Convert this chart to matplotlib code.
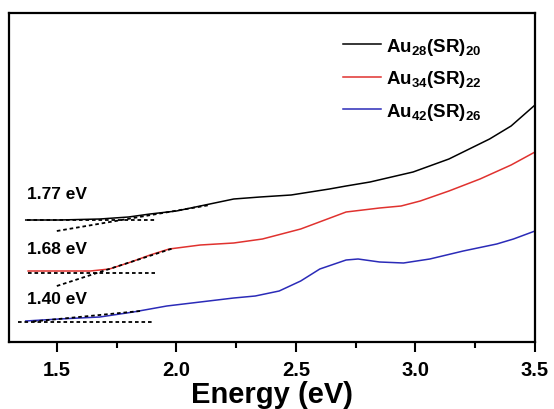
import numpy as np
import matplotlib
matplotlib.use('Agg')
import matplotlib.pyplot as plt
from matplotlib.ticker import MultipleLocator

plt.rcParams['font.family'] = ['Liberation Sans', 'DejaVu Sans']
plt.rcParams['font.weight'] = 'bold'
plt.rcParams['mathtext.fontset'] = 'custom'
plt.rcParams['mathtext.bf'] = 'Liberation Sans:bold'
plt.rcParams['mathtext.rm'] = 'Liberation Sans:bold'

# spectra (energy in eV, absorbance in arb. units)
e_28 = [1.37, 1.51, 1.68, 1.80, 1.89, 2.00, 2.10, 2.24, 2.35, 2.48, 2.64, 2.71, 2.81, 2.99, 3.14, 3.31, 3.40, 3.50]
a_28 = [1.22, 1.22, 1.23, 1.25, 1.28, 1.31, 1.36, 1.43, 1.45, 1.47, 1.53, 1.56, 1.60, 1.70, 1.83, 2.03, 2.16, 2.37]

e_34 = [1.38, 1.64, 1.72, 1.81, 1.89, 1.97, 2.10, 2.24, 2.36, 2.52, 2.71, 2.85, 2.94, 3.02, 3.14, 3.27, 3.40, 3.50]
a_34 = [0.71, 0.71, 0.73, 0.80, 0.87, 0.93, 0.97, 0.99, 1.03, 1.13, 1.30, 1.34, 1.36, 1.41, 1.51, 1.63, 1.77, 1.90]

e_42 = [1.37, 1.51, 1.68, 1.82, 1.96, 2.10, 2.24, 2.33, 2.43, 2.52, 2.60, 2.71, 2.76, 2.85, 2.95, 3.06, 3.20, 3.34, 3.41, 3.50]
a_42 = [0.21, 0.23, 0.25, 0.30, 0.36, 0.40, 0.44, 0.46, 0.51, 0.61, 0.73, 0.82, 0.83, 0.80, 0.79, 0.83, 0.91, 0.98, 1.03, 1.11]

labels = [r'Au$_{\mathbf{28}}$(SR)$_{\mathbf{20}}$',
          r'Au$_{\mathbf{34}}$(SR)$_{\mathbf{22}}$',
          r'Au$_{\mathbf{42}}$(SR)$_{\mathbf{26}}$']
colors = ['black', '#e0322f', '#2b2bb8']

# tangent construction lines (pairs of end points) and gap values
base_x = [[1.374, 1.92], [1.379, 1.91], [1.337, 1.90]]
base_y = [[1.22, 1.22], [0.69, 0.69], [0.205, 0.205]]
tan_x = [[1.50, 2.14], [1.50, 1.99], [1.40, 1.85]]
tan_y = [[1.11, 1.37], [0.56, 0.94], [0.205, 0.31]]
gaps = ['1.77 eV', '1.68 eV', '1.40 eV']
gap_y = [1.48, 0.93, 0.43]

fig = plt.figure(figsize=(5.54, 4.10), dpi=100)
ax = fig.add_axes([9/554, 67/410, 526/554, 329/410])

for ex, ab, lab, c in zip([e_28, e_34, e_42], [a_28, a_34, a_42], labels, colors):
    ax.plot(ex, ab, color=c, lw=1.1, label=lab)

for bx, by, tx, ty in zip(base_x, base_y, tan_x, tan_y):
    ax.plot(bx, by, color='black', lw=1.3, ls=(0, (2.0, 1.6)))
    ax.plot(tx, ty, color='black', lw=1.3, ls=(0, (2.0, 1.6)))

for g, gy in zip(gaps, gap_y):
    ax.text(1.374, gy, g, fontsize=12.5, fontweight='bold', va='center', ha='left')

ax.set_xlim(1.30, 3.50)
ax.set_ylim(0, 3.29)
ax.xaxis.set_major_locator(MultipleLocator(0.5))
ax.xaxis.set_minor_locator(MultipleLocator(0.25))
ax.set_yticks([])
ax.tick_params(axis='x', which='major', direction='out', length=7, width=1.5, labelsize=14.5, pad=6)
ax.tick_params(axis='x', which='minor', direction='out', length=4, width=1.5)
for lbl in ax.get_xticklabels():
    lbl.set_fontweight('bold')
for s in ax.spines.values():
    s.set_linewidth(1.6)
ax.set_xlabel('Energy (eV)', fontsize=21, fontweight='bold', labelpad=1)

ax.legend(loc='upper left', bbox_to_anchor=(0.635, 0.93), frameon=False, fontsize=13.5,
          handlelength=2.0, handletextpad=0.3, labelspacing=0.6, borderpad=0, borderaxespad=0)

fig.savefig('out.png', dpi=100)
